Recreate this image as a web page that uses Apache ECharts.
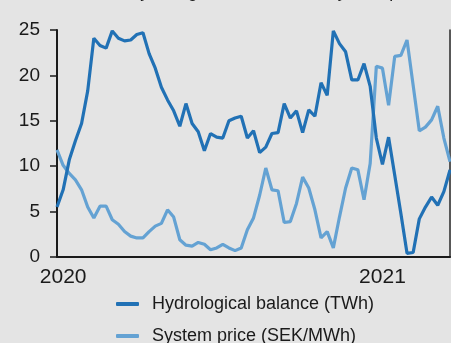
<!DOCTYPE html>
<html>
<head>
<meta charset="utf-8">
<script src="https://cdn.jsdelivr.net/npm/echarts@6/dist/echarts.min.js"></script>
<style>
  html, body { margin: 0; padding: 0; background: #e4e4e4; }
  #chart { width: 451px; height: 343px; }
</style>
</head>
<body>
<div id="chart"></div>
<script>
// Weekly observations, first week starting 2019-12-30
const weekStart = new Date(Date.UTC(2019, 11, 30));
const weeks = [];
for (let i = 0; i < 65; i++) {
  const d = new Date(weekStart.getTime() + i * 7 * 86400000);
  weeks.push(d.toISOString().slice(0, 10));
}

// Hydrological balance, TWh
const hydroBalance = [
  5.5, 7.4, 10.7, 12.8, 14.7, 18.3, 24.1, 23.3, 23.0, 24.9,
  24.1, 23.8, 23.9, 24.5, 24.7, 22.4, 20.8, 18.7, 17.3, 16.1,
  14.4, 16.9, 14.7, 13.8, 11.7, 13.6, 13.2, 13.1, 15.0, 15.3,
  15.5, 13.1, 13.9, 11.5, 12.1, 13.6, 13.7, 16.9, 15.3, 16.1,
  13.7, 16.2, 15.5, 19.2, 17.8, 24.9, 23.5, 22.6, 19.5, 19.5,
  21.3, 18.8, 13.1, 10.2, 13.2, 9.0, 4.8, 0.4, 0.5, 4.2,
  5.5, 6.6, 5.7, 7.2, 9.6
];

// System price, SEK/MWh
const systemPrice = [
  11.8, 10.1, 9.2, 8.5, 7.4, 5.5, 4.3, 5.6, 5.6, 4.1,
  3.6, 2.8, 2.3, 2.1, 2.1, 2.8, 3.4, 3.7, 5.2, 4.4,
  1.9, 1.3, 1.2, 1.6, 1.4, 0.8, 1.0, 1.4, 1.0, 0.7,
  1.0, 3.0, 4.3, 6.8, 9.8, 7.4, 7.3, 3.8, 3.9, 5.9,
  8.8, 7.6, 5.2, 2.1, 2.8, 1.0, 4.4, 7.6, 9.8, 9.6,
  6.3, 10.3, 21.0, 20.8, 16.7, 22.1, 22.2, 23.9, 18.9, 13.9,
  14.3, 15.1, 16.6, 13.1, 10.5
];

const yearLabels = ['2020', '2021'];
const yTicks = [0, 5, 10, 15, 20, 25];

const seriesNames = ['Hydrological balance (TWh)', 'System price (SEK/MWh)'];
const seriesColors = ['#2171b5', '#64a2d3'];

// Show a year label on the first week of each labelled year
function isYearStart(idx) {
  if (idx === 0) return false;
  const y = weeks[idx].slice(0, 4);
  return y !== weeks[idx - 1].slice(0, 4) && yearLabels.indexOf(y) >= 0;
}

const chart = echarts.init(document.getElementById('chart'), null, { renderer: 'canvas' });

const axisColor = '#1a1a1a';
const font = 'Liberation Sans, Arial, sans-serif';

// One legend block per series, stacked under the plot
function legendRow(name, top) {
  return {
    data: [name],
    left: 116,
    top: top,
    padding: 0,
    icon: 'roundRect',
    itemWidth: 23,
    itemHeight: 4,
    textStyle: { fontFamily: font, fontSize: 18, color: '#1a1a1a', padding: [0, 0, 0, 8] }
  };
}

chart.setOption({
  backgroundColor: '#e4e4e4',
  animation: false,
  title: {
    text: 'Nordic hydrological balance and system price',
    left: 75,
    top: -17,
    padding: 0,
    textStyle: { fontFamily: font, fontSize: 17.5, fontWeight: 'normal', color: '#1a1a1a' }
  },
  grid: { left: 57, right: 1, top: 30, bottom: 86, containLabel: false },
  legend: [legendRow(seriesNames[0], 295), legendRow(seriesNames[1], 327)],
  xAxis: {
    type: 'category',
    data: weeks,
    boundaryGap: false,
    axisLine: { show: true, lineStyle: { color: axisColor, width: 2 } },
    axisTick: { show: false },
    splitLine: { show: false },
    axisLabel: {
      interval: (idx) => isYearStart(idx),
      formatter: (val) => val.slice(0, 4),
      margin: 10,
      fontFamily: font,
      fontSize: 21,
      color: '#1a1a1a'
    }
  },
  yAxis: [
    {
      type: 'value',
      min: yTicks[0],
      max: yTicks[yTicks.length - 1],
      interval: 5,
      axisLine: { show: true, lineStyle: { color: axisColor, width: 2 } },
      axisTick: { show: true, length: 7, lineStyle: { color: axisColor, width: 1.5 } },
      splitLine: { show: false },
      axisLabel: { margin: 17, fontFamily: font, fontSize: 19, color: '#1a1a1a' }
    },
    {
      type: 'value',
      position: 'right',
      min: yTicks[0],
      max: yTicks[yTicks.length - 1],
      interval: 5,
      axisLine: { show: true, lineStyle: { color: '#2a2a2a', width: 1.5 } },
      axisTick: { show: false },
      axisLabel: { show: false },
      splitLine: { show: false }
    }
  ],
  series: [
    {
      name: seriesNames[0],
      type: 'line',
      data: hydroBalance,
      yAxisIndex: 0,
      showSymbol: false,
      symbol: 'none',
      lineStyle: { color: seriesColors[0], width: 3.2 },
      itemStyle: { color: seriesColors[0] },
      z: 3
    },
    {
      name: seriesNames[1],
      type: 'line',
      data: systemPrice,
      yAxisIndex: 0,
      showSymbol: false,
      symbol: 'none',
      lineStyle: { color: seriesColors[1], width: 3.2 },
      itemStyle: { color: seriesColors[1] },
      z: 2
    }
  ]
});
</script>
</body>
</html>
